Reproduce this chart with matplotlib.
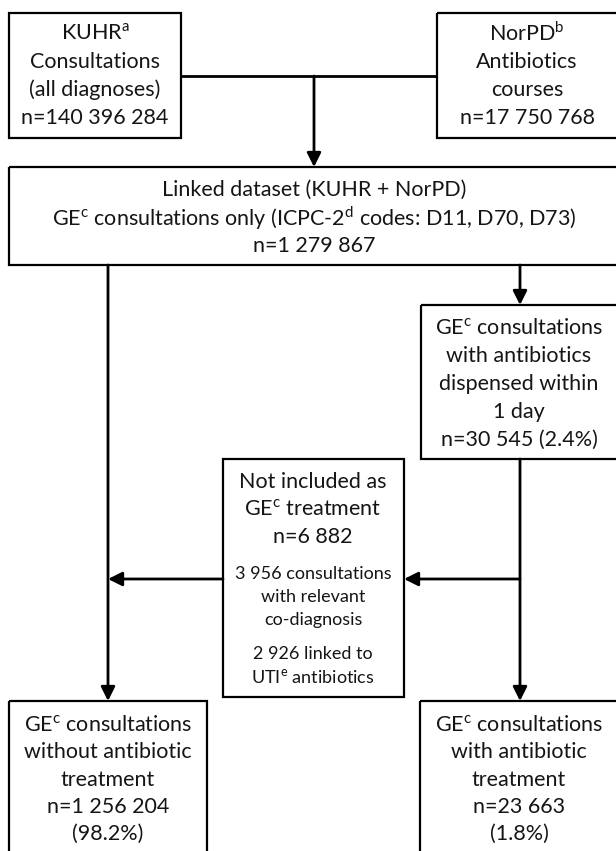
import matplotlib
matplotlib.use('Agg')
import matplotlib.pyplot as plt
from matplotlib.patches import Rectangle

plt.rcParams['font.family'] = ['Lato', 'DejaVu Sans']
plt.rcParams['mathtext.fontset'] = 'custom'
plt.rcParams['mathtext.rm'] = 'Lato'

# counts shown in the flow chart
n_kuhr = "140 396 284"
n_norpd = "17 750 768"
n_linked = "1 279 867"
n_dispensed = "30 545"
pct_dispensed = "2.4%"
n_excluded = "6 882"
n_codiag = "3 956"
n_uti = "2 926"
n_without = "1 256 204"
pct_without = "98.2%"
n_with = "23 663"
pct_with = "1.8%"

def sup(s):
    return r"$^{\mathregular{%s}}$" % s

kuhr_lines = ["KUHR" + sup("a"), "Consultations", "(all diagnoses)", "n=" + n_kuhr]
norpd_lines = ["NorPD" + sup("b"), "Antibiotics", "courses", "n=" + n_norpd]
linked_lines = ["Linked dataset (KUHR + NorPD)",
                "GE" + sup("c") + " consultations only (ICPC-2" + sup("d") + " codes: D11, D70, D73)",
                "n=" + n_linked]
disp_lines = ["GE" + sup("c") + " consultations", "with antibiotics", "dispensed within",
              "1 day", "n=%s (%s)" % (n_dispensed, pct_dispensed)]
excl_lines = ["Not included as", "GE" + sup("c") + " treatment", "n=" + n_excluded]
excl_small = [n_codiag + " consultations", "with relevant", "co-diagnosis",
              n_uti + " linked to", "UTI" + sup("e") + " antibiotics"]
without_lines = ["GE" + sup("c") + " consultations", "without antibiotic", "treatment",
                 "n=" + n_without, "(%s)" % pct_without]
with_lines = ["GE" + sup("c") + " consultations", "with antibiotic", "treatment",
              "n=" + n_with, "(%s)" % pct_with]

W, H = 616, 851
fig = plt.figure(figsize=(W / 100, H / 100), dpi=100)
ax = fig.add_axes([0, 0, 1, 1])
ax.set_xlim(0, W)
ax.set_ylim(H, 0)
ax.axis('off')

BOX_LW = 1.6
LINE_LW = 2.0
FS = 15.5
FS_SMALL = 13.0
TXT = '#151515'


def box(x0, y0, x1, y1):
    ax.add_patch(Rectangle((x0, y0), x1 - x0, y1 - y0, fill=False,
                           edgecolor='black', lw=BOX_LW, clip_on=False))


def lines_at(x, ys, texts, fs=FS):
    for y, t in zip(ys, texts):
        ax.text(x, y, t, ha='center', va='center', fontsize=fs, color=TXT)


def seg(x0, y0, x1, y1):
    ax.plot([x0, x1], [y0, y1], color='black', lw=LINE_LW, solid_capstyle='butt')


def arrow(x0, y0, x1, y1):
    ax.annotate('', xy=(x1, y1), xytext=(x0, y0),
                arrowprops=dict(arrowstyle='-|>,head_length=0.42,head_width=0.21',
                                color='black', lw=LINE_LW, shrinkA=0, shrinkB=0,
                                mutation_scale=20))


# boxes
box(9, 13, 181, 138)
box(437, 13, 618, 138)
box(9, 167, 618, 265)
box(421, 305, 618, 459)
box(223, 459, 404, 697)
box(9, 701, 207, 860)
box(420, 701, 618, 860)

# connectors
seg(181, 76, 437, 76)
arrow(314, 76, 314, 167)
arrow(108, 265, 108, 701)
arrow(520, 265, 520, 305)
arrow(520, 459, 520, 701)
arrow(520, 579, 404, 579)
arrow(223, 579, 108, 579)

# texts
lines_at(95, [33, 62, 90, 118], kuhr_lines)
lines_at(527, [33, 62, 90, 118], norpd_lines)
lines_at(314, [190, 218, 246], linked_lines)
lines_at(519, [328, 356, 384, 412, 440], disp_lines)
lines_at(313, [482, 509, 537], excl_lines)
lines_at(313, [574, 597, 620, 654, 677], excl_small, fs=FS_SMALL)
lines_at(108, [725, 752, 780, 807, 834], without_lines)
lines_at(519, [725, 752, 780, 807, 834], with_lines)

fig.savefig('out.png', dpi=100, facecolor='white')
